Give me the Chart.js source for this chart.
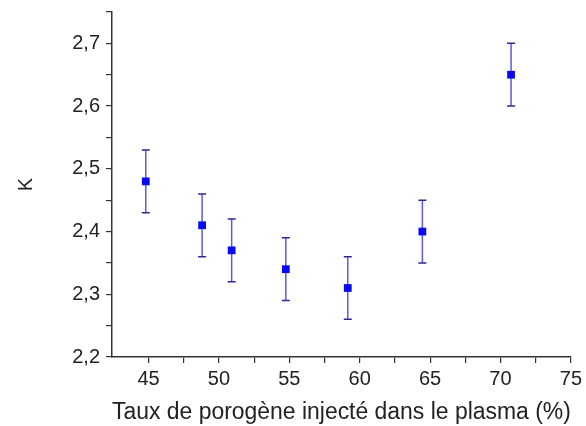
<!DOCTYPE html>
<html>
<head>
<meta charset="utf-8">
<script src="https://cdn.jsdelivr.net/npm/chart.js@4"></script>
<style>
    html, body { margin: 0; padding: 0; background: #fff; }
    #wrap { width: 586px; height: 426px; }
</style>
</head>
<body>
<div id="wrap"><canvas id="kChart"></canvas></div>
<script>
// Taux de porogène (%) et constante diélectrique K
const porogen = [44.8, 48.8, 50.9, 54.75, 59.15, 64.45, 70.75];
const kValues = [2.48, 2.41, 2.37, 2.34, 2.31, 2.40, 2.65];
const kError = [0.05, 0.05, 0.05, 0.05, 0.05, 0.05, 0.05];

const axisColor = '#333333';
const fontFamily = '"Liberation Sans", Arial, sans-serif';

// error bars drawn through the chart scales
const errorBars = {
    id: 'errorBars',
    beforeDatasetsDraw(chart) {
        const ctx = chart.ctx;
        const xs = chart.scales.x;
        const ys = chart.scales.y;
        ctx.save();
        ctx.lineWidth = 1.5;
        porogen.forEach((x, i) => {
            const px = xs.getPixelForValue(x);
            const top = ys.getPixelForValue(kValues[i] + kError[i]);
            const bottom = ys.getPixelForValue(kValues[i] - kError[i]);
            ctx.strokeStyle = '#5a5aee';
            ctx.beginPath();
            ctx.moveTo(px, top);
            ctx.lineTo(px, bottom);
            ctx.stroke();
            ctx.strokeStyle = '#2a2a90';
            ctx.beginPath();
            ctx.moveTo(px - 4, top);
            ctx.lineTo(px + 4, top);
            ctx.moveTo(px - 4, bottom);
            ctx.lineTo(px + 4, bottom);
            ctx.stroke();
        });
        ctx.restore();
    }
};

const onStep = (v, step) => Math.abs(v / step - Math.round(v / step)) < 1e-6;

new Chart(document.getElementById('kChart').getContext('2d'), {
    type: 'scatter',
    data: {
        datasets: [{
            label: 'K',
            data: porogen.map((x, i) => ({ x: x, y: kValues[i] })),
            pointStyle: 'rect',
            pointRadius: 5.5,
            pointBackgroundColor: '#0a0af0',
            pointBorderColor: '#0a0af0',
            pointBorderWidth: 0
        }]
    },
    options: {
        responsive: true,
        maintainAspectRatio: false,
        animation: false,
        layout: { padding: { top: 12, right: 11, left: 0, bottom: 0 } },
        plugins: {
            legend: { display: false },
            tooltip: { enabled: false }
        },
        scales: {
            x: {
                type: 'linear',
                min: 42.4,
                max: 75,
                afterBuildTicks: (scale) => {
                    scale.ticks = scale.ticks.filter(t => onStep(t.value, 2.5));
                },
                afterFit: (scale) => { scale.height = 69; },
                border: { color: axisColor, width: 1.5 },
                grid: {
                    drawOnChartArea: false,
                    drawTicks: true,
                    tickLength: 6,
                    color: axisColor,
                    lineWidth: 1.2
                },
                ticks: {
                    stepSize: 2.5,
                    autoSkip: false,
                    maxRotation: 0,
                    padding: 4,
                    color: '#222',
                    font: { family: fontFamily, size: 20 },
                    callback: (v) => onStep(v, 5) ? String(v) : ''
                },
                title: {
                    display: true,
                    text: 'Taux de porogène injecté dans le plasma (%)',
                    color: '#222',
                    font: { family: fontFamily, size: 23 },
                    padding: { top: 8, bottom: 0 }
                }
            },
            y: {
                min: 2.2,
                max: 2.75,
                afterBuildTicks: (scale) => {
                    scale.ticks = scale.ticks.filter(t => onStep(t.value, 0.05));
                },
                afterFit: (scale) => {
                    scale.width = 112;
                    scale.paddingTop = 0;
                },
                border: { color: axisColor, width: 1.5 },
                grid: {
                    drawOnChartArea: false,
                    drawTicks: true,
                    tickLength: 6,
                    color: axisColor,
                    lineWidth: 1.2
                },
                ticks: {
                    stepSize: 0.05,
                    autoSkip: false,
                    padding: 6,
                    color: '#222',
                    font: { family: fontFamily, size: 20 },
                    callback: (v) => onStep(v, 0.1) ? v.toFixed(1).replace('.', ',') : ''
                },
                title: {
                    display: true,
                    text: 'K',
                    color: '#222',
                    font: { family: fontFamily, size: 20 },
                    padding: { top: 14 }
                }
            }
        }
    },
    plugins: [errorBars]
});
</script>
</body>
</html>
